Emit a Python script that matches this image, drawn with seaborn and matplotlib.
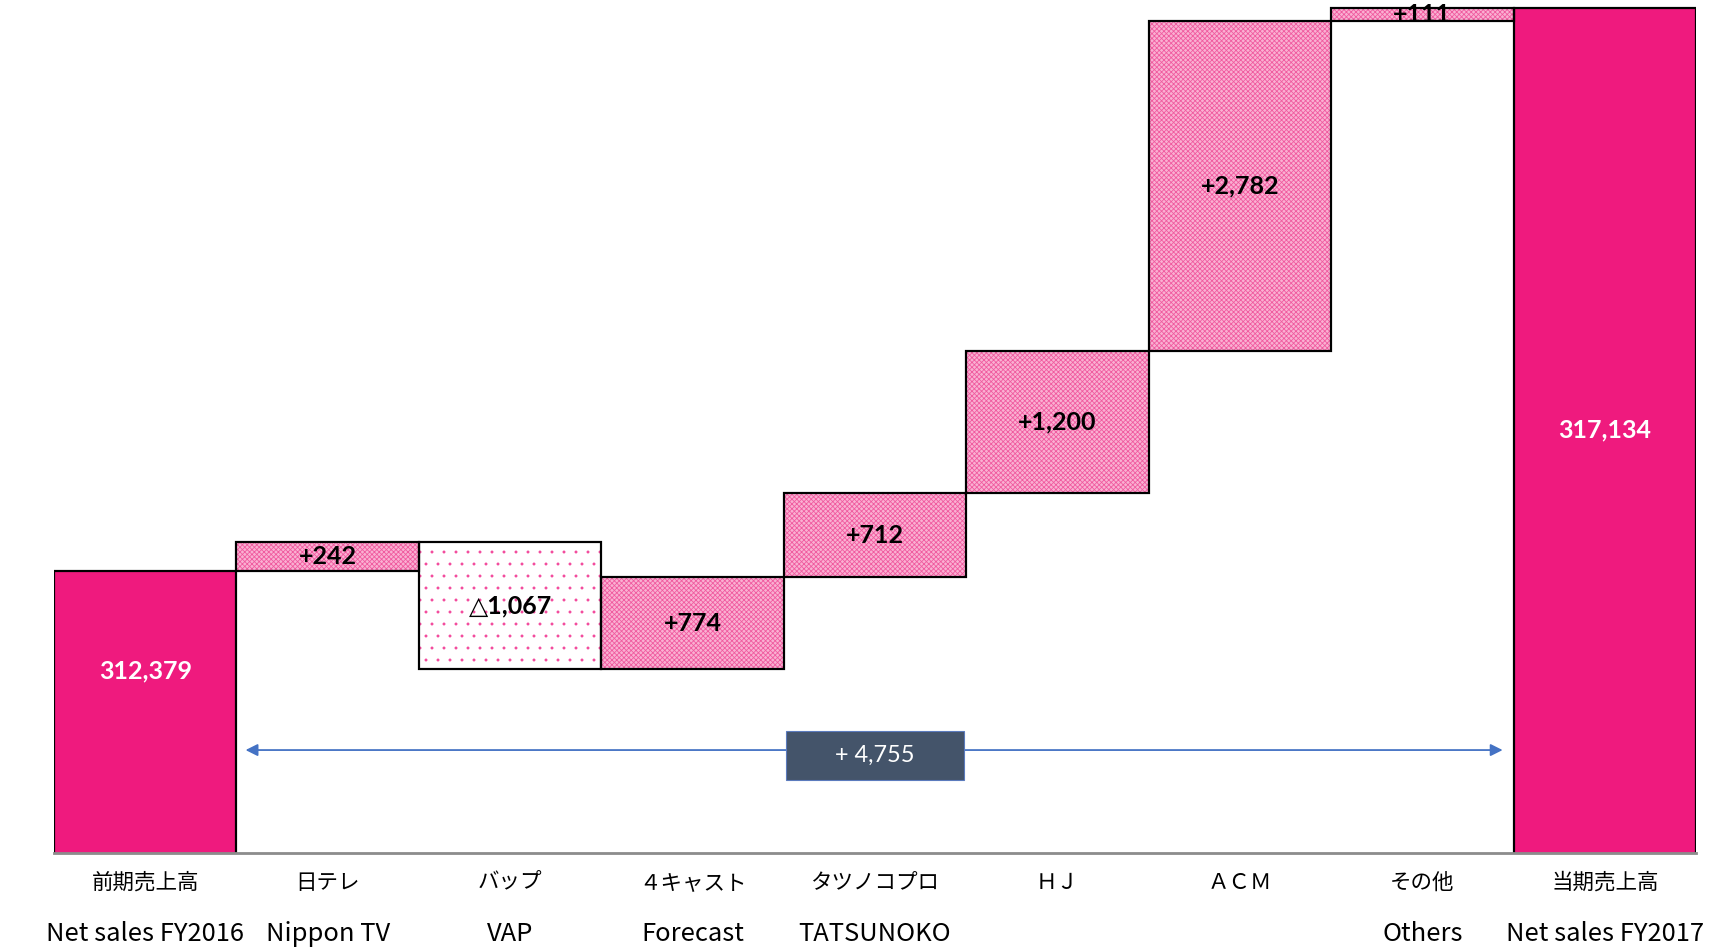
import pandas as pd
import matplotlib.pyplot as plt
import seaborn as sns
from matplotlib.patches import Rectangle

# data
jp_labels = ['前期売上高', '日テレ', 'バップ', '４キャスト', 'タツノコプロ', 'ＨＪ', 'ＡＣＭ', 'その他', '当期売上高']
en_labels = ['Net sales FY2016', 'Nippon TV', 'VAP', 'Forecast', 'TATSUNOKO', '', '', 'Others', 'Net sales FY2017']
start_total = 312379
changes = [242, -1067, 774, 712, 1200, 2782, 111]
end_total = 317134

# waterfall pieces
heights, bottoms, kinds = [start_total], [0], ['total']
run = start_total
for c in changes:
    heights.append(abs(c))
    bottoms.append(run if c > 0 else run + c)
    kinds.append('up' if c > 0 else 'down')
    run += c
heights.append(end_total)
bottoms.append(0)
kinds.append('total')

df = pd.DataFrame({'item': jp_labels, 'height': heights, 'bottom': bottoms, 'kind': kinds})

TOTAL = '#ef1a7e'
# dpi 72 so the dot hatch spacing matches (1 pt = 1 px)
plt.rcParams['hatch.linewidth'] = 0.8
fig, ax = plt.subplots(figsize=(1725 / 72, 950 / 72), dpi=72)
fig.subplots_adjust(left=0.0313, right=0.9832, bottom=0.1021, top=1.0)

sns.barplot(data=df, x='item', y='height', order=jp_labels, bottom=df['bottom'].values,
            width=1.0, color=TOTAL, linewidth=0, ax=ax)
for p, k in zip(ax.patches, df['kind']):
    if k == 'total':
        p.set_facecolor(TOTAL)
    elif k == 'up':
        p.set_facecolor('#fab0d2')
        p.set_hatch('xxxxx')
        p.set_edgecolor('#f05a9f')
        p.set_linewidth(0)
    else:
        p.set_facecolor('white')
        p.set_hatch('.')
        p.set_edgecolor('#f3449a')
        p.set_linewidth(0)
        if hasattr(p, 'set_hatch_linewidth'):
            p.set_hatch_linewidth(0.4)

# outlines
sns.barplot(data=df, x='item', y='height', order=jp_labels, bottom=df['bottom'].values,
            width=1.0, fill=False, color='black', linewidth=2.2, ax=ax)

ax.set_xlim(-0.5, len(jp_labels) - 0.5)
ax.set_ylim(310000, 317200)

# value labels
for i, (h, b, k) in enumerate(zip(df['height'], df['bottom'], df['kind'])):
    if k == 'total':
        y = 311540 if i == 0 else (310000 + h) / 2
        ax.text(i, y, f'{h:,}', ha='center', va='center', color='white',
                fontsize=25, fontweight='bold', family=['Lato', 'DejaVu Sans'])
    else:
        txt = f'+{h:,}' if k == 'up' else f'△{h:,}'
        ax.text(i, b + h / 2, txt, ha='center', va='center', color='black',
                fontsize=25, fontweight='bold', family=['Lato', 'DejaVu Sans'])

# total change arrow
arrow_y = 310869
ax.annotate('', xy=(len(jp_labels) - 1.56, arrow_y), xytext=(0.55, arrow_y),
            arrowprops=dict(arrowstyle='<|-|>', color='#4472c4', lw=1.8,
                            mutation_scale=25, shrinkA=0, shrinkB=0))
mid = (len(jp_labels) - 1) / 2
ax.add_patch(Rectangle((mid - 0.49, 310620), 0.98, 413, facecolor='#44546a',
                       edgecolor='#5b7bbd', linewidth=1.1, zorder=5))
ax.text(mid, 310827, f'+ {end_total - start_total:,}', ha='center', va='center',
        color='white', fontsize=23.5, family=['Lato', 'DejaVu Sans'], zorder=6)

# category labels
ax.set_xticks(range(len(jp_labels)))
ax.set_xticklabels([])
ax.tick_params(axis='x', length=0)
ax.set_yticks([])
ax.set_xlabel('')
ax.set_ylabel('')
trans = ax.get_xaxis_transform()
for i, (jp, en) in enumerate(zip(jp_labels, en_labels)):
    ax.text(i, -0.035, jp, transform=trans, ha='center', va='center',
            fontsize=21.5, family=['Noto Sans CJK JP'])
    ax.text(i, -0.095, en, transform=trans, ha='center', va='center',
            fontsize=25.5, family=['Noto Sans CJK JP'])

for s in ['top', 'right', 'left']:
    ax.spines[s].set_visible(False)
ax.spines['bottom'].set_color('#8c8c8c')
ax.spines['bottom'].set_linewidth(2.8)

fig.savefig('out.png', dpi=72)
